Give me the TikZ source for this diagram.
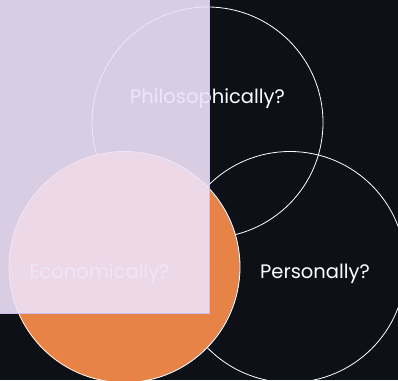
\documentclass[tikz,border=0pt]{standalone}
\usepackage{fontspec}
\setmainfont{Poppins}
\usepackage{tikz}

\definecolor{nightbg}{RGB}{14,16,23}
\definecolor{venorange}{RGB}{232,131,72}
\definecolor{lavfill}{RGB}{238,226,250}
\definecolor{lavedge}{RGB}{205,190,235}

\tikzset{
    ring/.style={circle, draw=white, line width=0.8pt, minimum size=231pt, inner sep=0pt},
    label/.style={text=white, font=\fontsize{19.5}{23}\selectfont}
}

\begin{document}
\begin{tikzpicture}[x=1pt, y=-1pt]
    \useasboundingbox (0,0) rectangle (398,380);
    \fill[nightbg] (0,0) rectangle (398,380);

    \node[ring] (philo) at (207.5,122.5) {};
    \node[ring] (perso) at (290,267) {};
    \node[ring, fill=venorange] (econ) at (124.5,267) {};

    \node[label] (philotxt) at (207.5,99) {Philosophically?};
    \node[label] (econtxt) at (99.5,274) {Economically?};
    \node[label] (persotxt) at (315,274) {Personally?};

    \path[fill=lavfill, fill opacity=0.9, draw=lavedge, line width=0.8pt] (-2,-2) rectangle (209,313);

    \end{tikzpicture}
\end{document}
